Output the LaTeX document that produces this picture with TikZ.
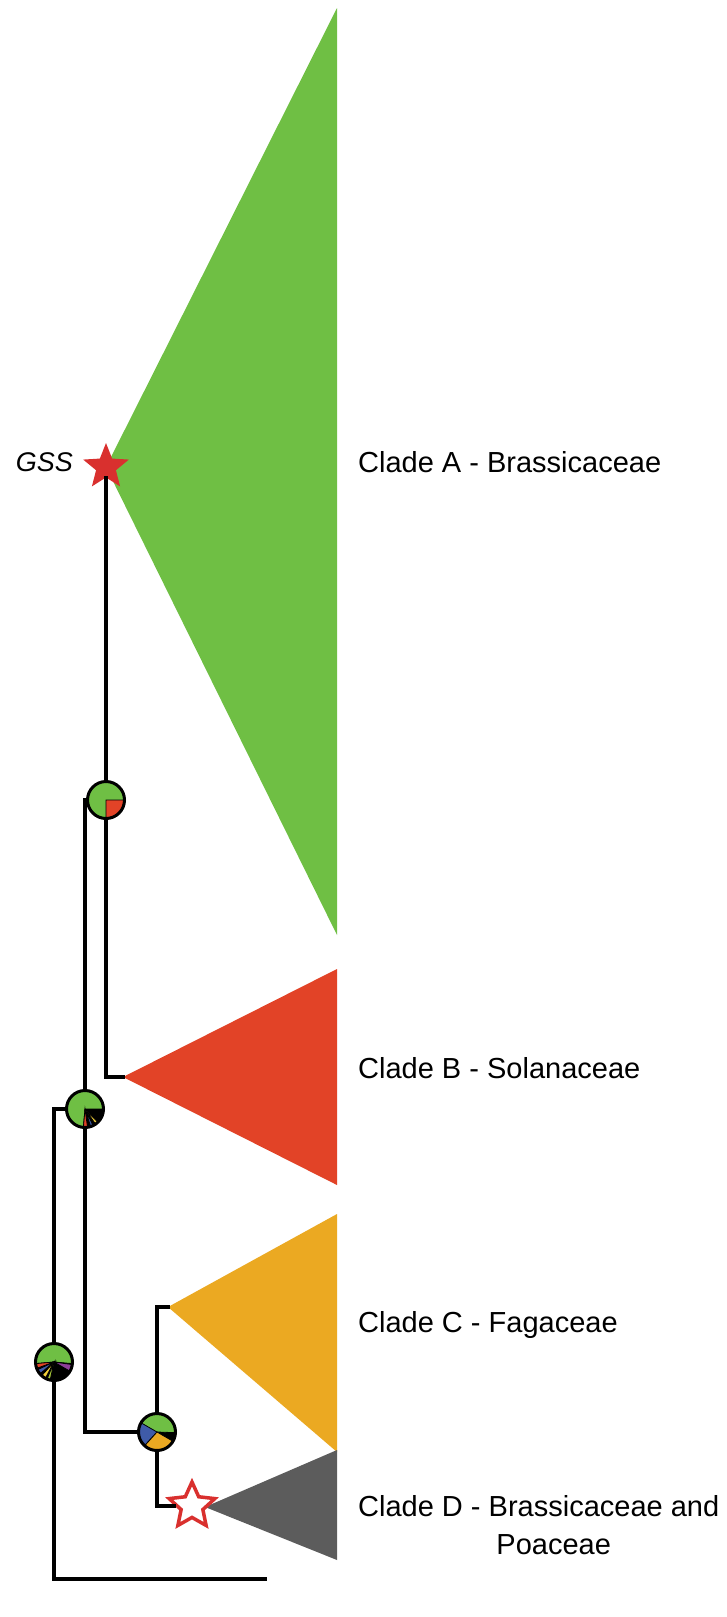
\documentclass[tikz,border=0pt]{standalone}
\usepackage{fontspec}
\setmainfont{Liberation Sans}
\usepackage{tikz}
\usetikzlibrary{shapes.geometric, positioning}

\definecolor{cladegreen}{HTML}{6FBF44}
\definecolor{cladered}{HTML}{E24327}
\definecolor{cladeorange}{HTML}{EBA922}
\definecolor{cladegray}{HTML}{5C5C5C}
\definecolor{starred}{HTML}{D9302E}
\definecolor{pieblue}{HTML}{3F5BA8}
\definecolor{pieyellow}{HTML}{F2D03A}
\definecolor{pielime}{HTML}{A8C83A}
\definecolor{piepurple}{HTML}{8E3F9A}

% one slice of a pie node, drawn from inside its path picture
\newcommand{\pieslice}[3]{\fill[#1, draw=black, line width=0.8pt] (path picture bounding box.center) -- ++(#2:22pt) arc[start angle=#2, end angle=#3, radius=22pt] -- cycle;}

\tikzset{
  tree/.style={line width=3.2pt, line cap=rect},
  pie/.style={circle, draw, line width=3pt, minimum size=37pt, inner sep=0pt, fill=cladegreen},
  clade/.style={anchor=west, inner sep=0pt, font=\fontsize{29}{38}\selectfont, align=center}
}

\begin{document}
\begin{tikzpicture}[x=1pt, y=-1pt]
\useasboundingbox (0,0) rectangle (726,1617);

% clades
\coordinate (Aapex) at (106,467);
\coordinate (Bapex) at (123,1077);
\coordinate (Capex) at (168,1307);
\coordinate (Dapex) at (205,1507);
\coordinate (Out) at (265,1579);

\fill[cladegreen]  (Aapex) -- (337,8)    -- (337,935)  -- cycle;
\fill[cladered]    (Bapex) -- (337,969)  -- (337,1185) -- cycle;
\fill[cladeorange] (Capex) -- (337,1214) -- (337,1452) -- cycle;
\fill[cladegray]   (Dapex) -- (337,1450) -- (337,1560) -- cycle;

% ancestral states
\node[pie, path picture={\pieslice{cladered}{-90}{0}}] (P1) at (106,800) {};
\node[pie, path picture={\pieslice{black}{265}{360}
                         \pieslice{cladered}{265}{278}
                         \pieslice{pieblue}{288}{296}
                         \pieslice{pieyellow}{305}{314}}] (P2) at (85,1109) {};
\node[pie, path picture={\pieslice{black}{185}{355}
                         \pieslice{cladered}{185}{200}
                         \pieslice{pieblue}{205}{220}
                         \pieslice{pieyellow}{228}{242}
                         \pieslice{pielime}{248}{258}
                         \pieslice{piepurple}{330}{352}}] (P3) at (54,1362) {};
\node[pie, path picture={\pieslice{black}{330}{358}
                         \pieslice{pieblue}{150}{228}
                         \pieslice{cladeorange}{228}{330}}] (P4) at (157,1432) {};

\node[star, star points=5, star point ratio=2.3, minimum size=48pt, inner sep=0pt, fill=starred] (GSS) at (Aapex) {};
\node[star, star points=5, star point ratio=2.1, minimum size=48pt, inner sep=0pt, draw=starred, line width=3.5pt, fill=white] (SD) at (192,1506) {};

% branches
\draw[tree] (P1) -- (GSS);
\draw[tree] (P1) |- (Bapex);
\draw[tree] (P2) |- (P1);
\draw[tree] (P2) |- (P4);
\draw[tree] (P4) |- (Capex);
\draw[tree] (P4) |- (SD);
\draw[tree] (P3) |- (P2);
\draw[tree] (P3) |- (Out);

% labels
\node[anchor=east, inner sep=0pt, font=\fontsize{27}{32}\selectfont\itshape] (gsslab) at (73,462) {GSS};
\node[clade] (labA) at (358,462) {Clade A - Brassicaceae};
\node[clade] (labB) at (358,1068) {Clade B - Solanaceae};
\node[clade] (labC) at (358,1325) {Clade C - Fagaceae};
\node[clade] (labD) at (358,1525) {Clade D - Brassicaceae and\\\hspace*{30pt}Poaceae};

\end{tikzpicture}
\end{document}
